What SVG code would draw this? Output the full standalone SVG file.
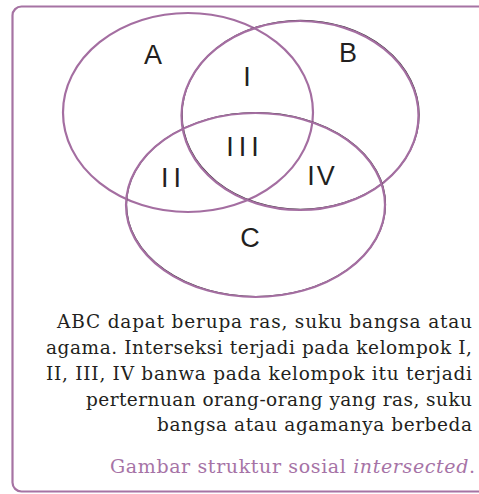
<svg xmlns="http://www.w3.org/2000/svg" width="479" height="494" viewBox="0 0 479 494">
<style>
.frame{fill:none;stroke:#a673a3;stroke-width:2.2}
.ell{fill:none;stroke:#a46ea1;stroke-width:2.2}
.shadow{fill:none;stroke:#3a3438;stroke-width:1.2}
.lbl{font-family:"Liberation Sans",Arial,sans-serif;font-size:27px;fill:#231f20;text-anchor:middle}
.body{font-family:"DejaVu Serif","Liberation Serif",serif;font-size:18.5px;fill:#231f20;text-anchor:end}
.cap{font-family:"DejaVu Serif","Liberation Serif",serif;font-size:19px;fill:#a673a6;text-anchor:end}
</style>
<rect width="479" height="494" fill="#ffffff"/>
<g id="frame"><rect class="frame" x="12.5" y="6.5" width="480" height="485" rx="9"/></g>
<g id="connectors"></g>
<g id="node-A"><ellipse class="ell" cx="188" cy="112.5" rx="125" ry="99.5"/><text class="lbl" x="153" y="64">A</text></g>
<g id="node-B"><ellipse class="shadow" cx="300.6" cy="114.8" rx="118.5" ry="94.5"/><ellipse class="ell" cx="300" cy="115.5" rx="118.5" ry="94.5"/><text class="lbl" x="348" y="62">B</text></g>
<g id="node-C"><ellipse class="shadow" cx="256" cy="204.5" rx="129.5" ry="92"/><ellipse class="ell" cx="255.5" cy="205" rx="129.5" ry="92"/><text class="lbl" x="250" y="247">C</text></g>
<g id="regions">
<text class="lbl" x="247" y="86">I</text>
<text class="lbl" x="173.5" y="187" letter-spacing="5">II</text>
<text class="lbl" x="245" y="156" letter-spacing="5">III</text>
<text class="lbl" x="322" y="185" letter-spacing="2">IV</text>
</g>
<g id="description">
<text class="body" x="472" y="328" textLength="415" lengthAdjust="spacing">ABC dapat berupa ras, suku bangsa atau</text>
<text class="body" x="472" y="354" textLength="426" lengthAdjust="spacing">agama. Interseksi terjadi pada kelompok I,</text>
<text class="body" x="472" y="380" textLength="426" lengthAdjust="spacing">II, III, IV banwa pada kelompok itu terjadi</text>
<text class="body" x="472" y="405.5" textLength="386" lengthAdjust="spacing">perternuan orang-orang yang ras, suku</text>
<text class="body" x="472" y="431" textLength="315" lengthAdjust="spacing">bangsa atau agamanya berbeda</text>
</g>
<g id="caption">
<text class="cap" x="475" y="473" textLength="365" lengthAdjust="spacing">Gambar struktur sosial <tspan font-style="italic">intersected</tspan>.</text>
</g>
</svg>
